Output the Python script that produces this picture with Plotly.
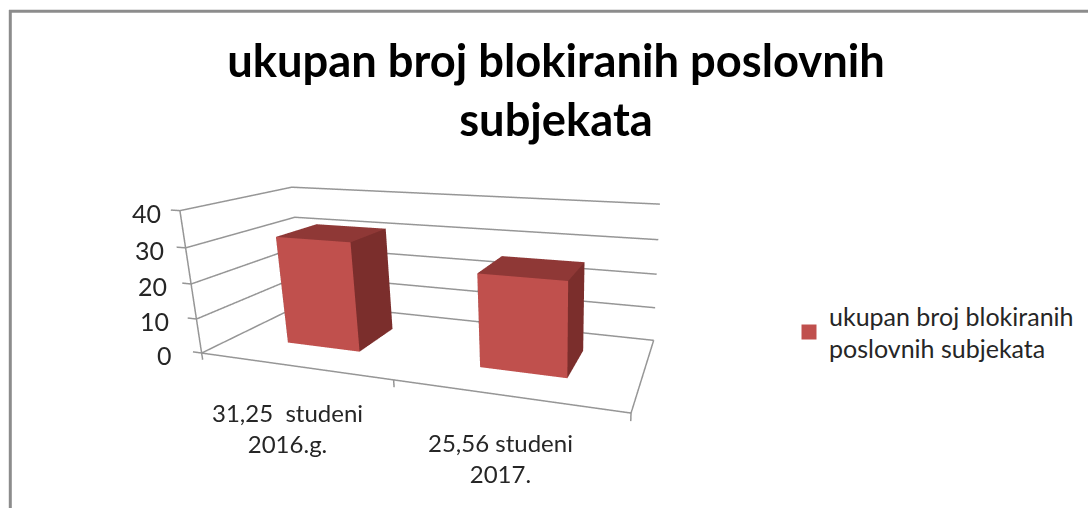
import plotly.graph_objects as go

categories = ["31,25  studeni<br>2016.g.", "25,56 studeni<br>2017."]
values = [31.25, 25.56]
series_name = "ukupan broj blokiranih<br>poslovnih subjekata"
title_text = "ukupan broj blokiranih poslovnih<br>subjekata"
z_ticks = [0, 10, 20, 30, 40]

W, H = 1088, 508
FONT = "Lato"
TXT = "#262626"
LINE = "#969696"
FRAME = "#8c8c8c"
FRONT, TOP, SIDE = "#c0504d", "#8f3836", "#7b2e2c"

x_max = len(values)
z_max = z_ticks[-1]

# Camera for the box x 0..x_max, y 0..1, z 0..z_max
EYE = dict(x=1.4731, y=-2.8413, z=0.948)
CENTER = dict(x=0.553, y=0.2892, z=0.1054)
UP = dict(x=-0.2016, y=0.6937, z=1.0156)
ASPECT = dict(x=2.312, y=0.8514, z=0.7764)
BAR_HALF = 0.1978
DEPTH = (0.2957, 0.7041)

# The axis ranges are a little wider so that ticks and edge lines are not clipped;
# aspect and camera are rescaled so that the box stays where it was.
base = dict(x=(0, x_max), y=(0, 1), z=(0, z_max))
ranges = dict(x=(-0.07, x_max + 0.02), y=(-0.01, 1.01), z=(-3, z_max + 0.5))
aspect, eye, center = {}, {}, {}
for k in "xyz":
    l0, h0 = base[k]; l1, h1 = ranges[k]
    s = h0 - l0
    aspect[k] = ASPECT[k] * (h1 - l1) / s
    shift = ASPECT[k] * (l0 - l1) / s - .5 * aspect[k] + .5 * ASPECT[k]
    eye[k] = EYE[k] + shift
    center[k] = CENTER[k] + shift

lx, ly, lz = [], [], []
def seg(*pts):
    for q in pts:
        lx.append(q[0]); ly.append(q[1]); lz.append(q[2])
    lx.append(None); ly.append(None); lz.append(None)

for z in z_ticks:
    seg((-0.05, 0, z), (0, 0, z), (0, 1, z), (x_max, 1, z))
seg((0, 0, 0), (0, 0, z_max))
seg((0, 0, 0), (x_max, 0, 0), (x_max, 1, 0))
for xt in range(x_max + 1):
    seg((xt, 0, 0), (xt, 0, -2))

traces = [go.Scatter3d(x=lx, y=ly, z=lz, mode="lines", line=dict(color=LINE, width=3),
                       hoverinfo="skip", showlegend=False)]

for i, v in enumerate(values):
    x0, x1 = i + .5 - BAR_HALF, i + .5 + BAR_HALF
    d0, d1 = DEPTH
    traces.append(go.Mesh3d(
        x=[x0, x1, x1, x0, x0, x1, x1, x0],
        y=[d0, d0, d1, d1, d0, d0, d1, d1],
        z=[0, 0, 0, 0, v, v, v, v],
        i=[0, 0, 4, 4, 0, 0, 1, 1, 2, 2, 3, 3],
        j=[1, 2, 5, 6, 1, 5, 2, 6, 3, 7, 0, 4],
        k=[2, 3, 6, 7, 5, 4, 6, 5, 7, 6, 4, 7],
        facecolor=[TOP] * 4 + [FRONT] * 2 + [SIDE] * 6,
        flatshading=True,
        lighting=dict(ambient=1, diffuse=0, specular=0, fresnel=0, roughness=1),
        hoverinfo="skip", showlegend=False))

traces.append(go.Scatter(x=[None], y=[None], mode="markers", name=series_name,
                         marker=dict(symbol="square", size=15, color=FRONT), showlegend=True))

fig = go.Figure(traces)

ann = [dict(x=0, y=0, z=z, text=str(z), showarrow=False, xanchor="right",
            xshift=-17 - 11 * (z_max - z) / z_max, yshift=-2,
            font=dict(family=FONT, size=25, color=TXT)) for z in z_ticks]
ann += [dict(x=i + .5, y=0, z=0, text=t, showarrow=False, xanchor="center", yanchor="top",
             xshift=-5, yshift=-30, font=dict(family=FONT, size=24, color=TXT))
        for i, t in enumerate(categories)]

noaxis = dict(visible=False)
fig.update_layout(
    width=W, height=H, margin=dict(l=0, r=0, t=0, b=0),
    paper_bgcolor="white", plot_bgcolor="rgba(0,0,0,0)",
    xaxis=dict(visible=False), yaxis=dict(visible=False), showlegend=True,
    title=dict(text=title_text, x=556 / W, xanchor="center", y=1 - 77 / H, yanchor="top",
               font=dict(family=FONT, size=45.3, color="#000", weight="bold")),
    legend=dict(x=799 / W, y=1 - 293 / H, xanchor="left", yanchor="top", indentation=-10,
                font=dict(family=FONT, size=25, color=TXT)),
    shapes=[
        dict(type="line", xref="paper", yref="paper", x0=9 / W, x1=1, y0=1 - 11.3 / H, y1=1 - 11.3 / H,
             line=dict(color=FRAME, width=3)),
        dict(type="line", xref="paper", yref="paper", x0=10.3 / W, x1=10.3 / W, y0=0, y1=1 - 10 / H,
             line=dict(color=FRAME, width=3))],
    scene=dict(
        domain=dict(x=[0, 1], y=[0, 1]), bgcolor="rgba(0,0,0,0)", aspectmode="manual",
        aspectratio=aspect,
        camera=dict(eye=eye, center=center, up=UP, projection=dict(type="perspective")),
        xaxis=dict(range=list(ranges["x"]), **noaxis),
        yaxis=dict(range=list(ranges["y"]), **noaxis),
        zaxis=dict(range=list(ranges["z"]), **noaxis),
        annotations=ann))

fig.write_html("out.html", config=dict(displayModeBar=False, responsive=False),
               post_script="document.body.style.margin='0';document.body.style.overflow='hidden';")
